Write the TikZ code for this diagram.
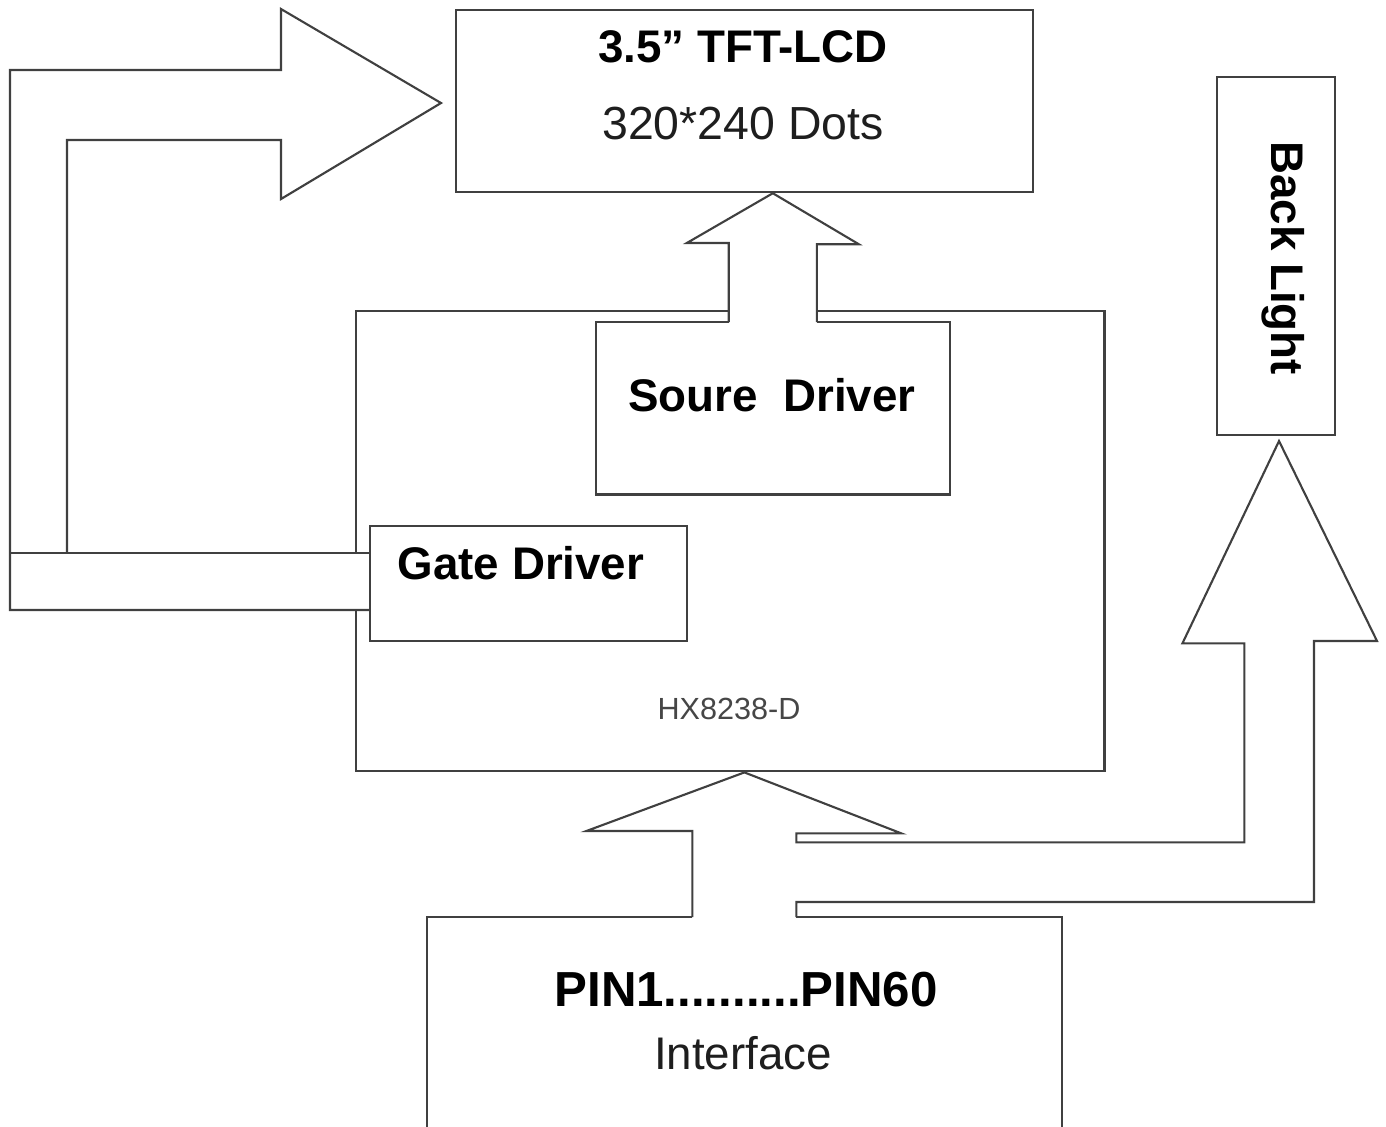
\documentclass[tikz,border=0pt]{standalone}
\usepackage{fontspec}
\setmainfont{Liberation Sans}
\usepackage{xcolor}
\usepackage{tikz}

\begin{document}
\begin{tikzpicture}[x=0.01cm,y=-0.01cm]
% Define colors
\definecolor{linegray}{RGB}{64,64,64}
\definecolor{textgray}{RGB}{30,30,30}
\definecolor{chipgray}{RGB}{70,70,70}

\tikzset{
  blockbox/.style={draw=linegray,line width=0.6pt,inner sep=0pt,anchor=north west},
  blockarea/.style={inner sep=0pt,anchor=north west},
  arrowline/.style={draw=linegray,line width=0.6pt,line join=miter},
  arrowfill/.style={arrowline,fill=white},
  boldtext/.style={font=\fontsize{13}{15}\selectfont\bfseries},
  thintext/.style={font=\fontsize{13.2}{16}\selectfont,text=textgray},
}

\useasboundingbox (0,0) rectangle (1386,1126);

% Panel and back light
\node[blockbox,minimum width=5.77cm,minimum height=1.82cm] (lcd) at (455,9) {};
\node[blockbox,minimum width=1.18cm,minimum height=3.58cm] (blight) at (1216,76) {};

% Driver chip
\node[blockbox,minimum width=7.48cm,minimum height=4.60cm] (hx) at (355,310) {};
\node[blockarea,minimum width=3.52cm,minimum height=1.71cm] (src) at (596,322) {};

% Gate bus and big arrow to the panel
\fill[white] (10,553) rectangle (369,610);
\draw[arrowline] (369,553) -- (10,553);
\draw[arrowline] (67,553) -- (67,140) -- (281,140) -- (281,199) -- (441,103)
  -- (281,9) -- (281,70) -- (10,70) -- (10,610) -- (369,610);
\node[blockbox,minimum width=3.17cm,minimum height=1.15cm] (gate) at (369,525) {};

% Source driver arrow up to the panel
\coordinate (srcl) at ([xshift=-0.44cm]src.north);
\coordinate (srcr) at ([xshift=0.44cm]src.north);
\coordinate (srctip) at (src.north |- lcd.south);
\filldraw[arrowfill] (srcl) -- ++(0,-79) -- ++(-42,0) -- (srctip) -- ++(86,51)
  -- ++(-42,0) -- (srcr);
\draw[arrowline] (srcl) -- (src.north west) -- (src.south west)
  -- (src.south east) -- (src.north east) -- (srcr);

% Interface
\node[blockarea,minimum width=6.33cm,minimum height=2.09cm] (pins) at (427,917) {};
\coordinate (pinl) at ([xshift=-0.52cm]pins.north);
\coordinate (pinr) at ([xshift=0.52cm]pins.north);
\coordinate (hxtip) at (pins.north |- hx.south);
\coordinate (bltip) at (1279,441);
\filldraw[arrowfill] (pinl) -- ++(0,-86) -- ++(-106,0) -- (hxtip) -- ++(157,61)
  -- ++(-105,0) -- ++(0,9) -- ++(448,0) -- ++(0,-199) -- ++(-62,0) -- (bltip)
  -- ++(98,200) -- ++(-63,0) -- ++(0,261) -- (pinr |- 0,902) -- (pinr);
\draw[arrowline] (pinl) -- (pins.north west) -- (pins.south west);
\draw[arrowline] (pinr) -- (pins.north east) -- (pins.south east);

% Labels
\node[boldtext] (lcdtitle) at (743,47) {3.5” TFT-LCD};
\node[thintext] (lcddots) at (743,124) {320*240 Dots};
\node[boldtext] (srclabel) at (772,395) {Soure~~Driver};
\node[boldtext] (gatelabel) at (521,563) {Gate Driver};
\node[font=\fontsize{8.7}{10}\selectfont,text=chipgray] (hxlabel) at (729,709) {HX8238-D};
\node[boldtext,font=\fontsize{14}{16}\selectfont\bfseries] (pinlabel) at (746,990) {PIN1..........PIN60};
\node[thintext,font=\fontsize{13}{15}\selectfont] (pinsub) at (743,1053) {Interface};
\node[boldtext,rotate=-90] (bllabel) at (1283,258) {Back Light};

\end{tikzpicture}
\end{document}
